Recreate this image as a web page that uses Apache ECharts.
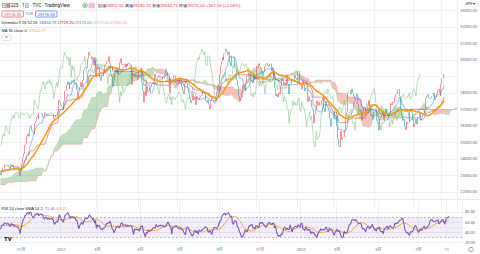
<!DOCTYPE html>
<html>
<head>
<meta charset="utf-8">
<script src="https://cdn.jsdelivr.net/npm/echarts@6/dist/echarts.min.js"></script>
<style>
  html, body { margin: 0; padding: 0; background: #fff; }
  #chart { width: 480px; height: 254px; }
</style>
</head>
<body>
<div id="chart"></div>
<script>
// Nikkei 225 daily, Oct 2020 - Aug 2022 (closes)
const holidays = [
  '2020-11-03', '2020-11-23', '2020-12-31', '2021-01-01', '2021-01-11', '2021-02-11', '2021-02-23',
  '2021-04-29', '2021-05-03', '2021-05-04', '2021-05-05', '2021-07-22', '2021-07-23', '2021-08-09',
  '2021-09-20', '2021-09-23', '2021-11-03', '2021-11-23', '2021-12-31', '2022-01-03', '2022-01-10',
  '2022-02-11', '2022-02-23', '2022-03-21', '2022-04-29', '2022-05-03', '2022-05-04', '2022-05-05',
  '2022-07-18', '2022-08-11', '2022-09-19', '2022-09-23'
];
const futureBars = 13;

// closes before the visible range (Jun - Sep 2020), only used to warm up the indicators
const historyCloses = [
  23178, 23091, 23124, 22472, 22305, 21530, 22582, 22455, 22355, 22478,
  22437, 22549, 22534, 22259, 22512, 21995, 22288,
  22121, 22145, 22306, 22714, 22614, 22438, 22529, 22290, 22784, 22587, 22945, 22770, 22696, 22717,
  22884, 22751, 22715, 22657, 22397, 22339, 21710,
  22195, 22573, 22514, 22418, 22329, 22750, 22843, 23249, 23289, 23096, 22920, 23051, 22880, 22985,
  23360, 23296, 23208, 23296, 22882, 23139,
  23138, 23247, 23465, 23205, 23089, 23274, 23032, 23235, 23406, 23559, 23454, 23475, 23319, 23360,
  23087, 23204, 23511, 23539, 23185
];

const closes = [
  // 2020-10
  23029.90, 23312.14, 23433.73, 23422.82, 23647.07, 23619.69, 23558.69, 23601.78, 23626.73, 23507.23,
  23410.63, 23671.13, 23567.04, 23639.46, 23474.27, 23516.59, 23494.34, 23485.80, 23418.51, 23331.94, 22977.13,
  // 2020-11
  23295.48, 23695.23, 24105.28, 24325.23, 24839.84, 24905.59, 25349.60, 25520.88, 25385.87, 25906.93,
  26014.62, 25728.14, 25634.34, 25527.37, 26165.59, 26296.86, 26537.31, 26644.71, 26433.62,
  // 2020-12
  26787.54, 26800.98, 26809.37, 26751.24, 26547.44, 26467.08, 26817.94, 26756.24, 26652.52, 26732.44,
  26687.84, 26757.40, 26806.67, 26763.39, 26714.42, 26436.39, 26524.79, 26668.35, 26656.61, 26854.03,
  27568.15, 27444.17,
  // 2021-01
  27258.38, 27158.63, 27055.94, 27490.13, 28139.03, 28164.34, 28456.59, 28698.26, 28519.18, 28242.21,
  28633.46, 28523.26, 28756.86, 28631.45, 28822.29, 28546.18, 28635.21, 28197.42, 27663.39,
  // 2021-02
  28091.05, 28362.17, 28646.50, 28341.95, 28779.19, 29388.50, 29505.93, 29562.93, 29520.07, 30084.15,
  30467.75, 30292.19, 30236.09, 30017.92, 30156.03, 29671.70, 30168.27, 28966.01,
  // 2021-03
  29663.50, 29408.17, 29559.10, 28930.11, 28864.32, 28743.25, 29027.94, 29036.56, 29211.64, 29717.83,
  29766.97, 29921.09, 29914.33, 30216.75, 29792.05, 29174.15, 28995.92, 28405.52, 28729.88, 29176.70,
  29384.52, 29432.70, 29178.80,
  // 2021-04
  29388.87, 29854.00, 30089.25, 29696.63, 29730.79, 29708.98, 29768.06, 29538.73, 29751.61, 29620.99,
  29642.69, 29683.37, 29685.37, 29100.38, 28508.55, 29188.17, 29020.63, 29126.23, 28991.89, 29053.97,
  28812.63,
  // 2021-05
  29331.37, 29357.82, 29518.34, 28608.59, 28147.51, 27448.01, 28084.47, 27824.83, 28406.84, 28044.45,
  28098.25, 28317.83, 28364.61, 28553.98, 28642.19, 28549.01, 29149.41, 28860.08,
  // 2021-06
  28814.34, 28946.14, 29058.11, 28941.52, 29019.24, 28963.56, 28860.80, 28958.56, 28948.73, 29161.80,
  29441.30, 29291.01, 29018.33, 28964.08, 28010.93, 28884.13, 28874.89, 28875.23, 29066.18, 29048.02,
  28812.61, 28791.53,
  // 2021-07
  28707.04, 28783.28, 28598.19, 28643.21, 28366.95, 28118.03, 27940.42, 28569.02, 28718.24, 28608.49,
  28279.09, 28003.08, 27652.74, 27388.16, 27548.00, 27833.29, 27970.22, 27581.66, 27782.42, 27283.59,
  // 2021-08
  27781.02, 27641.83, 27584.08, 27728.12, 27820.04, 27888.15, 28070.51, 28015.02, 27977.15, 27523.19,
  27424.47, 27585.91, 27281.17, 27013.25, 27494.24, 27732.10, 27724.80, 27742.29, 27641.14, 27789.29,
  28089.54,
  // 2021-09
  28451.02, 28543.51, 29128.11, 29659.89, 29916.14, 30181.21, 30008.19, 30381.84, 30447.37, 30670.10,
  30511.71, 30323.34, 30500.05, 29839.71, 29639.40, 30248.81, 30240.06, 30183.96, 29544.29, 29452.66,
  // 2021-10
  28771.07, 28444.89, 27822.12, 27528.87, 27678.21, 28048.94, 28498.20, 28230.61, 28140.28, 28550.93,
  29068.63, 29025.46, 29215.52, 29255.55, 28708.58, 28804.85, 28600.41, 29106.01, 29098.24, 28820.09,
  28892.69,
  // 2021-11
  29647.08, 29520.90, 29794.37, 29611.57, 29507.05, 29285.46, 29106.78, 29277.86, 29609.97, 29776.80,
  29808.12, 29688.33, 29598.66, 29745.87, 29774.11, 29302.66, 29499.28, 28751.62, 28283.92, 27821.76,
  // 2021-12
  27935.62, 27753.37, 28029.57, 27927.37, 28455.60, 28860.62, 28725.47, 28437.77, 28640.49, 28432.64,
  28459.72, 29066.32, 28545.68, 27937.81, 28517.59, 28562.21, 28798.37, 28782.59, 28676.46, 29069.16,
  28906.88, 28791.71,
  // 2022-01
  29301.79, 29332.16, 28487.87, 28478.56, 28222.48, 28765.66, 28489.13, 28124.28, 28333.52, 28257.25,
  27467.23, 27772.93, 27522.26, 27588.37, 27131.34, 27011.33, 26170.30, 26717.34, 27001.98,
  // 2022-02
  27078.48, 27533.60, 27241.31, 27439.99, 27248.87, 27284.52, 27579.87, 27696.08, 27079.59, 26865.19,
  27460.40, 27232.87, 27122.07, 26910.87, 26449.61, 25970.82, 26476.50, 26526.82,
  // 2022-03
  26844.72, 26393.03, 26577.27, 25985.47, 25221.41, 24790.95, 24717.53, 25690.40, 25162.78, 25307.85,
  25346.48, 25762.01, 26652.89, 26827.43, 27224.11, 28040.16, 28110.39, 28149.84, 27943.89, 28252.42,
  28027.25, 27821.43,
  // 2022-04
  27665.98, 27736.47, 27787.98, 27350.30, 26888.57, 26985.80, 26821.52, 26334.98, 26843.49, 27172.00,
  27093.19, 26799.71, 26985.09, 27217.85, 27553.06, 27105.26, 26590.78, 26700.11, 26386.63, 26847.90,
  // 2022-05
  26818.53, 27003.56, 26319.34, 26167.10, 26213.64, 25748.72, 26427.65, 26547.05, 26659.75, 26911.20,
  26402.84, 26739.03, 27001.52, 26748.14, 26677.80, 26604.84, 26781.68, 27369.43, 27279.80,
  // 2022-06
  27457.89, 27413.88, 27761.57, 27915.89, 27943.95, 28234.29, 28246.53, 27824.29, 26987.44, 26629.86,
  26326.16, 26431.20, 25963.00, 25771.22, 26246.31, 26149.55, 26171.25, 26491.97, 26871.27, 27049.47,
  26804.60, 26393.04,
  // 2022-07
  25935.62, 26153.81, 26423.47, 26107.65, 26490.53, 26517.19, 26812.30, 26336.66, 26478.77, 26643.39,
  26788.47, 26961.68, 27680.26, 27803.00, 27914.66, 27699.25, 27655.21, 27715.75, 27815.48, 27801.64,
  // 2022-08
  27993.35, 27594.73, 27741.90, 27932.20, 28175.87, 28249.24, 27999.96, 27819.33, 28546.98, 28871.78,
  28868.91, 29176.00
];

const tickLabels = [
  ['2020-11-02', '11月'], ['2021-01-04', '2021'], ['2021-03-01', '3月'], ['2021-05-06', '5月'],
  ['2021-07-01', '7月'], ['2021-09-01', '9月'], ['2021-11-01', '11月'], ['2022-01-04', '2022'],
  ['2022-03-01', '3月'], ['2022-05-02', '5月'], ['2022-07-01', '7月'], ['2022-08-15', '11']
];

// legend texts
const titleText = '日経225 · 1日 · TVC · TradingView';
const ohlcLabels = ['始値', '高値', '安値', '終値'];
const ohlcValues = ['28952.65', '29180.12', '28944.71', '29176.00'];
const changeText = '+307.16 (+1.06%)';
const ichimokuValues = ['28454.79', '27729.20', '29176.00', '28951.00', '27350.18'];
const maValue = '27552.77';
const rsiValues = ['71.40', '63.22'];

// trading calendar
const dates = [];
let t = Date.UTC(2020, 9, 2);
while (dates.length < closes.length + futureBars) {
  const d = new Date(t);
  const s = d.toISOString().slice(0, 10);
  const wd = d.getUTCDay();
  if (wd !== 0 && wd !== 6 && !holidays.includes(s)) dates.push(s);
  t += 86400000;
}
const labelAt = {};
tickLabels.forEach(([d, txt]) => { labelAt[d] = txt; });
const isTick = (idx, val) => !!labelAt[val];

const all = historyCloses.concat(closes);
const H = historyCloses.length;
const opens = all.map((c, i) => (i === 0 ? c : all[i - 1]));
const highs = all.map((c, i) => Math.max(c, opens[i]));
const lows = all.map((c, i) => Math.min(c, opens[i]));

function donchian(len, i) {
  let hi = -Infinity, lo = Infinity;
  for (let k = Math.max(0, i - len + 1); k <= i; k++) {
    hi = Math.max(hi, highs[k]);
    lo = Math.min(lo, lows[k]);
  }
  return (hi + lo) / 2;
}
function sma(arr, len, i) {
  let s = 0;
  for (let k = i - len + 1; k <= i; k++) s += arr[k];
  return s / len;
}

// RSI 14 (Wilder) over the whole series
const rsiAll = new Array(all.length).fill(null);
let avgUp = 0, avgDn = 0;
for (let i = 1; i < all.length; i++) {
  const ch = all[i] - all[i - 1];
  const up = Math.max(ch, 0), dn = Math.max(-ch, 0);
  if (i <= 14) {
    avgUp += up / 14; avgDn += dn / 14;
  } else {
    avgUp = (avgUp * 13 + up) / 14;
    avgDn = (avgDn * 13 + dn) / 14;
  }
  if (i >= 14) rsiAll[i] = avgDn === 0 ? 100 : 100 - 100 / (1 + avgUp / avgDn);
}

const total = dates.length;
const N = closes.length;
const candles = [], conv = [], base = [], lag = [], ma = [], spanA = [], spanB = [];
const cloudBase = [], cloudUp = [], cloudDn = [], rsi = [], rsiMa = [];
for (let j = 0; j < total; j++) {
  const i = j + H;
  if (j < N) {
    candles.push([opens[i], all[i], lows[i], highs[i]]);
    conv.push(+donchian(9, i).toFixed(2));
    base.push(+donchian(26, i).toFixed(2));
    ma.push(+sma(all, 30, i).toFixed(2));
    rsi.push(+rsiAll[i].toFixed(2));
    rsiMa.push(+sma(rsiAll, 14, i).toFixed(2));
  } else {
    candles.push('-'); conv.push('-'); base.push('-'); ma.push('-'); rsi.push('-'); rsiMa.push('-');
  }
  lag.push(i + 25 < all.length ? all[i + 25] : '-');
  const s = i - 25;
  const a = (donchian(9, s) + donchian(26, s)) / 2;
  const b = donchian(52, s);
  spanA.push(+a.toFixed(2));
  spanB.push(+b.toFixed(2));
  cloudBase.push(Math.min(a, b));
  cloudUp.push(a >= b ? a - b : 0);
  cloudDn.push(b > a ? b - a : 0);
}
const lastClose = closes[N - 1];

const FONT = 'Roboto, "Noto Sans CJK JP", sans-serif';
const GRID = '#eef0f5';
const line = (name, data, color, width, z, opacity) => ({
  name, type: 'line', data, xAxisIndex: 0, yAxisIndex: 0, showSymbol: false, silent: true,
  lineStyle: { color, width, opacity: opacity || 1 }, z
});
const cloud = (name, data, color) => ({
  name, type: 'line', data, stack: 'cloud', xAxisIndex: 0, yAxisIndex: 0, showSymbol: false,
  silent: true, lineStyle: { width: 0, opacity: 0 }, areaStyle: color ? { color, opacity: 1 } : undefined, z: 1
});

const chart = echarts.init(document.getElementById('chart'), null, { renderer: 'svg' });
chart.setOption({
  animation: false,
  backgroundColor: '#fff',
  textStyle: { fontFamily: FONT },
  grid: [
    { left: -1, right: 18, top: 0, height: 208.5 },
    { left: -1, right: 18, top: 201.8, height: 40.7 }
  ],
  xAxis: [0, 1].map((g) => ({
    type: 'category', gridIndex: g, data: dates, boundaryGap: true,
    axisLine: { show: false }, axisTick: { show: false },
    axisLabel: g === 1 ? {
      interval: isTick, formatter: (v) => labelAt[v] || '', fontSize: 4, color: '#6a6d78', margin: 5
    } : { show: false },
    splitLine: { show: true, interval: isTick, lineStyle: { color: GRID, width: 1 } }
  })),
  yAxis: [
    {
      type: 'value', gridIndex: 0, position: 'right', min: 21000, max: 33636, interval: 1000,
      axisLine: { show: false }, axisTick: { show: false },
      axisLabel: {
        fontSize: 4, color: '#6a6d78', margin: 3, showMinLabel: false, showMaxLabel: false,
        // the last-price tag covers the nearest tick label
        formatter: (v) => (Math.abs(v - lastClose) < 500 ? '' : v.toFixed(2))
      },
      splitLine: { lineStyle: { color: GRID }, showMinLine: false, showMaxLine: false }
    },
    {
      type: 'value', gridIndex: 1, position: 'right', min: 20, max: 100, interval: 20,
      axisLine: { show: false }, axisTick: { show: false },
      axisLabel: { fontSize: 4, color: '#6a6d78', margin: 3, formatter: (v) => v.toFixed(2), showMaxLabel: false },
      splitLine: { lineStyle: { color: GRID }, showMaxLine: false }
    }
  ],
  series: [
    cloud('cloudBase', cloudBase, null),
    cloud('cloudUp', cloudUp, 'rgba(67,160,71,0.33)'),
    cloud('cloudDn', cloudDn, 'rgba(244,67,54,0.33)'),
    line('Leading Span A', spanA, '#a5d6a7', 0.6, 2),
    line('Leading Span B', spanB, '#ef9a9a', 0.6, 2),
    line('Lagging Span', lag, '#6dbb70', 0.6, 3, 0.8),
    {
      name: '日経225', type: 'candlestick', data: candles, xAxisIndex: 0, yAxisIndex: 0, silent: true, z: 4,
      itemStyle: { color: '#ef5350', color0: '#26a69a', borderColor: '#ef5350', borderColor0: '#26a69a', borderWidth: 0.6 },
      markLine: {
        silent: true, symbol: ['none', 'none'], data: [{ yAxis: lastClose }],
        lineStyle: { color: '#f23645', width: 0, opacity: 0 },
        label: {
          position: 'end', distance: 1, formatter: lastClose.toFixed(2), fontSize: 4, color: '#fff',
          backgroundColor: '#f23645', padding: [1.3, 1.5, 1, 1.5], borderRadius: 0.5
        }
      }
    },
    line('Conversion Line', conv, '#2962ff', 0.6, 5, 0.75),
    line('Base Line', base, '#b71c1c', 0.6, 5, 0.75),
    line('MA 30', ma, '#ff9800', 1.5, 6),
    {
      name: 'RSI', type: 'line', data: rsi, xAxisIndex: 1, yAxisIndex: 1, showSymbol: false, silent: true,
      lineStyle: { color: '#7e57c2', width: 1.1 }, z: 3,
      markArea: { silent: true, itemStyle: { color: 'rgba(126,87,194,0.1)' }, data: [[{ yAxis: 30 }, { yAxis: 70 }]] },
      markLine: {
        silent: true, symbol: ['none', 'none'], label: { show: false },
        lineStyle: { color: '#9598a1', type: [2, 2], width: 0.6 },
        data: [{ yAxis: 70 }, { yAxis: 30 }, { yAxis: 50, lineStyle: { opacity: 0.35 } }]
      }
    },
    {
      name: 'RSI MA', type: 'line', data: rsiMa, xAxisIndex: 1, yAxisIndex: 1, showSymbol: false, silent: true,
      lineStyle: { color: '#f5a524', width: 1 }, z: 2
    }
  ],
  graphic: [
    { type: 'line', shape: { x1: 0, y1: 199.5, x2: 480, y2: 199.5 }, style: { stroke: '#e3e6ec', lineWidth: 0.8 }, z: 10 },
    {
      type: 'text', x: 1.5, y: 5.6, z: 20,
      style: { text: titleText, fontSize: 4.6, fontFamily: FONT, fill: '#131722', verticalAlign: 'middle' }
    },
    { type: 'circle', shape: { cx: 85, cy: 5.5, r: 2.4 }, style: { fill: '#e8f5e9', stroke: '#4caf50', lineWidth: 0.6 }, z: 20 },
    { type: 'circle', shape: { cx: 85, cy: 5.5, r: 1 }, style: { fill: '#4caf50' }, z: 21 },
    { type: 'rect', shape: { x: 88.5, y: 2.8, width: 6.5, height: 5.4, r: 1.5 }, style: { fill: '#f8bbd0' }, z: 20 },
    {
      type: 'text', x: 98, y: 5.6, z: 20,
      style: {
        text: ohlcLabels.map((l, k) => '{l|' + l + '}{v|' + ohlcValues[k] + '}').join(' ') + ' {v|' + changeText + '}',
        fontSize: 4.3, fontFamily: FONT, verticalAlign: 'middle',
        rich: { l: { fill: '#131722', fontSize: 4.3 }, v: { fill: '#f23645', fontSize: 4.3 } }
      }
    },
    { type: 'rect', shape: { x: 2, y: 11, width: 21.5, height: 6, r: 1 }, style: { fill: '#fff', stroke: '#f23645', lineWidth: 0.6 }, z: 20 },
    { type: 'text', x: 12.75, y: 14.1, z: 21, style: { text: lastClose.toFixed(2), fontSize: 4, fontFamily: FONT, fill: '#f23645', align: 'center', verticalAlign: 'middle' } },
    { type: 'text', x: 29.5, y: 14.1, z: 21, style: { text: '0.00', fontSize: 3.6, fontFamily: FONT, fill: '#787b86', align: 'center', verticalAlign: 'middle' } },
    { type: 'rect', shape: { x: 35.5, y: 11, width: 21.5, height: 6, r: 1 }, style: { fill: '#fff', stroke: '#2962ff', lineWidth: 0.6 }, z: 20 },
    { type: 'text', x: 46.25, y: 14.1, z: 21, style: { text: lastClose.toFixed(2), fontSize: 4, fontFamily: FONT, fill: '#2962ff', align: 'center', verticalAlign: 'middle' } },
    {
      type: 'text', x: 1.5, y: 22.5, z: 20,
      style: {
        text: '{l|Ichimoku 9 26 52 26}  {a|' + ichimokuValues[0] + '} {b|' + ichimokuValues[1] + '} {c|' +
          ichimokuValues[2] + '} {d|' + ichimokuValues[3] + '} {e|' + ichimokuValues[4] + '}',
        fontSize: 4, fontFamily: FONT, verticalAlign: 'middle',
        rich: {
          l: { fill: '#131722', fontSize: 4 }, a: { fill: '#2962ff', fontSize: 4 }, b: { fill: '#b71c1c', fontSize: 4 },
          c: { fill: '#43a047', fontSize: 4 }, d: { fill: '#a5d6a7', fontSize: 4 }, e: { fill: '#ef9a9a', fontSize: 4 }
        }
      }
    },
    {
      type: 'text', x: 1.5, y: 30.5, z: 20,
      style: {
        text: '{l|MA 30 close 0}  {v|' + maValue + '}', fontSize: 4, fontFamily: FONT, verticalAlign: 'middle',
        rich: { l: { fill: '#131722', fontSize: 4 }, v: { fill: '#ff9800', fontSize: 4 } }
      }
    },
    { type: 'rect', shape: { x: 2, y: 35, width: 9, height: 5.5, r: 1 }, style: { fill: '#fff', stroke: '#d1d4dc', lineWidth: 0.6 }, z: 20 },
    { type: 'text', x: 6.5, y: 38.3, z: 21, style: { text: '^', fontSize: 4.5, fontFamily: FONT, fill: '#131722', align: 'center', verticalAlign: 'middle' } },
    {
      type: 'text', x: 1.5, y: 208.5, z: 20,
      style: {
        text: '{l|RSI 14 close SMA 14 2}  {a|' + rsiValues[0] + '}  {b|' + rsiValues[1] + '}',
        fontSize: 4, fontFamily: FONT, verticalAlign: 'middle',
        rich: { l: { fill: '#131722', fontSize: 4 }, a: { fill: '#7e57c2', fontSize: 4 }, b: { fill: '#f5a524', fontSize: 4 } }
      }
    },
    { type: 'text', x: 465, y: 3.8, z: 20, style: { text: 'JPY ▾', fontSize: 4, fontFamily: FONT, fill: '#131722', verticalAlign: 'middle' } },
    { type: 'text', x: 4, y: 238.5, z: 20, style: { text: 'TV', fontSize: 6, fontWeight: 900, fontFamily: FONT, fill: '#131722', verticalAlign: 'middle' } },
    { type: 'circle', shape: { cx: 471, cy: 249.5, r: 2.2 }, style: { fill: 'none', stroke: '#787b86', lineWidth: 0.7 }, z: 20 }
  ]
});
</script>
</body>
</html>
